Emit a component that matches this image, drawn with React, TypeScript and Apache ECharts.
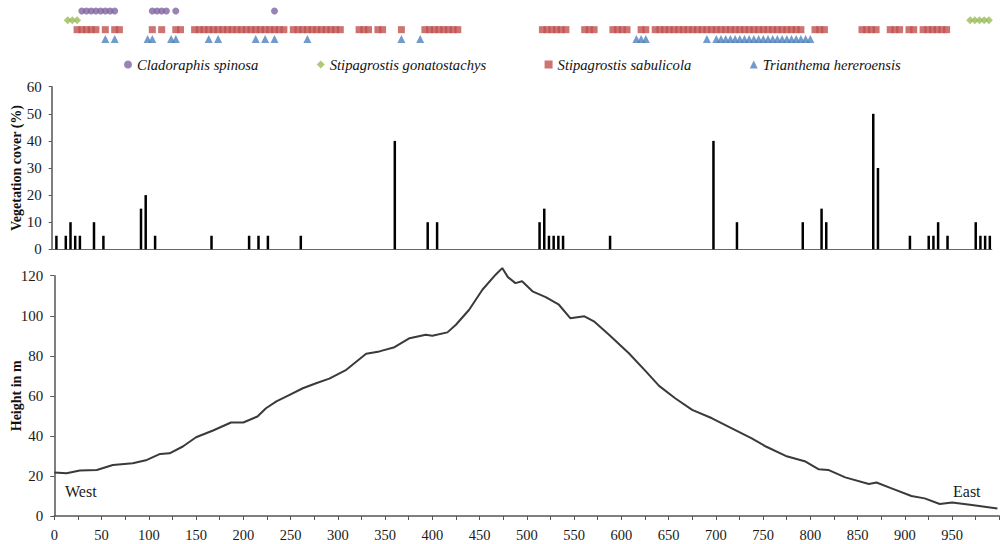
import { useEffect, useRef } from "react";
import * as echarts from "echarts";

// Species presence along the transect (distance in m)
const cladoraphisSpinosa = [30, 35, 40, 45, 50, 55, 60, 65, 105, 110, 115, 120, 130, 235];
const stipagrostisGonatostachys = [15, 20, 25, 975, 980, 985, 990, 995];
const stipagrostisSabulicola = [
  25, 30, 35, 40, 45, 55, 65, 70, 105, 115, 130, 135, 150,
  155, 160, 165, 170, 175, 180, 185, 190, 195, 200, 205, 210, 215, 220, 225, 230, 235, 240, 245,
  255, 260, 265, 270, 275, 280, 285, 290, 295, 300, 305,
  325, 330, 335, 345, 350, 370,
  395, 400, 405, 410, 415, 420, 425, 430,
  520, 525, 530, 535, 540, 545, 565, 570, 575, 595, 600, 605, 610, 625, 630,
  640, 645, 650, 655, 660, 665, 670, 675, 680, 685, 690, 695, 700, 705, 710, 715,
  720, 725, 730, 735, 740, 745, 750, 755, 760, 765, 770, 775, 780, 785, 790, 795,
  810, 815, 820, 860, 865, 870, 875, 890, 895, 900, 910, 915,
  925, 930, 935, 940, 945, 950,
];
const trianthemaHereroensis = [
  55, 65, 100, 105, 125, 130, 165, 175, 215, 225, 235, 270, 370, 390, 620, 625, 630, 695,
  705, 710, 715, 720, 725, 730, 735, 740, 745, 750, 755, 760, 765, 770, 775, 780, 785, 790, 795, 800, 805,
];

// Vegetation cover (%) at distance (m)
const vegCover: [number, number][] = [
  [5, 5], [15, 5], [20, 10], [25, 5], [30, 5], [45, 10], [55, 5], [95, 15], [100, 20], [110, 5],
  [170, 5], [210, 5], [220, 5], [230, 5], [265, 5], [365, 40], [400, 10], [410, 10],
  [519, 10], [524, 15], [529, 5], [534, 5], [539, 5], [544, 5], [594, 5],
  [704, 40], [729, 10], [799, 10], [819, 15], [824, 10], [874, 50], [879, 30],
  [913, 5], [933, 5], [938, 5], [943, 10], [953, 5], [983, 10], [988, 5], [993, 5], [998, 5],
];

// Height profile (distance m, height m)
const heightProfile: [number, number][] = [
  [0, 21.7], [13, 21.3], [27, 22.7], [45, 23], [62, 25.5], [83, 26.3], [98, 28], [112, 31],
  [122, 31.3], [136, 34.7], [150, 39.3], [168, 42.7], [187, 46.7], [200, 46.7], [215, 49.7],
  [224, 53.8], [235, 57.2], [249, 60.5], [263, 63.8], [277, 66.3], [291, 68.6], [309, 73],
  [330, 81], [344, 82.2], [360, 84.3], [376, 88.8], [393, 90.5], [400, 90], [416, 91.7],
  [425, 95.5], [439, 103], [453, 113], [467, 120.5], [474, 123.8], [480, 119.3], [488, 116.3],
  [495, 117.2], [506, 112.2], [520, 109.3], [534, 105.5], [546, 98.8], [561, 99.7], [571, 97.2],
  [587, 90.5], [608, 81.3], [626, 72.2], [640, 65], [657, 58.8], [675, 53], [696, 48.8],
  [717, 43.8], [738, 38.8], [753, 34.7], [774, 30], [795, 27.2], [809, 23.3], [819, 23],
  [837, 19.3], [862, 16], [870, 16.7], [886, 13.8], [907, 10], [921, 8.8], [937, 6],
  [950, 6.7], [971, 5.5], [998, 3.8],
];

const speciesNames = [
  "Cladoraphis spinosa",
  "Stipagrostis gonatostachys",
  "Stipagrostis sabulicola",
  "Trianthema hereroensis",
];

export default function App() {
  const ref = useRef<HTMLDivElement>(null);
  useEffect(() => {
    const chart = echarts.init(ref.current!, null, { renderer: "svg" });
    const serif = "Liberation Serif";
    const axisColor = "#555";
    const labelColor = "#1a1a1a";
    chart.setOption({
      animation: false,
      backgroundColor: "#fff",
      textStyle: { fontFamily: serif },
      legend: {
        data: speciesNames,
        left: 124,
        top: 57,
        padding: 0,
        itemWidth: 8,
        itemHeight: 8,
        itemGap: 58.5,
        textStyle: { fontFamily: serif, fontStyle: "italic", fontSize: 14.6, color: "#111" },
      },
      grid: [
        { left: 53.6, right: 7.4, top: 11, height: 28, containLabel: false, outerBoundsMode: "none" },
        { left: 51.7, right: 9.3, top: 86.7, height: 162.6, containLabel: false, outerBoundsMode: "none" },
        { left: 54.3, right: 1.7, top: 275.7, height: 240.3, containLabel: false, outerBoundsMode: "none" },
      ],
      xAxis: [
        { gridIndex: 0, type: "value", min: 0, max: 1000, show: false },
        {
          gridIndex: 1, type: "value", min: 0, max: 1000,
          axisLine: { show: true, lineStyle: { color: "#666", width: 1.2 } },
          axisTick: { show: false }, axisLabel: { show: false }, splitLine: { show: false },
        },
        {
          gridIndex: 2, type: "value", min: 0, max: 1000, interval: 25,
          axisLine: { show: true, lineStyle: { color: axisColor, width: 1.5 } },
          axisTick: { show: true, length: 4, lineStyle: { color: axisColor } },
          axisLabel: {
            margin: 11, fontFamily: serif, fontSize: 14.5, color: labelColor,
            formatter: (v: number) => (v % 50 === 0 && v < 1000 ? String(v) : ""),
          },
          splitLine: { show: false },
        },
      ],
      yAxis: [
        { gridIndex: 0, type: "value", min: 1, max: 4, show: false },
        {
          gridIndex: 1, type: "value", min: 0, max: 60, interval: 10,
          name: "Vegetation cover (%)", nameLocation: "middle", nameGap: 28.5,
          nameMoveOverlap: false,
          nameTextStyle: { fontFamily: serif, fontWeight: "bold", fontSize: 14, color: "#111" },
          axisLine: { show: true, lineStyle: { color: axisColor, width: 1.5 } },
          axisTick: { show: true, length: 3, lineStyle: { color: axisColor } },
          axisLabel: { margin: 10, fontFamily: serif, fontSize: 15, color: labelColor },
          splitLine: { show: false },
        },
        {
          gridIndex: 2, type: "value", min: 0, max: 120, interval: 20,
          name: "Height in m", nameLocation: "middle", nameGap: 31,
          nameMoveOverlap: false,
          nameTextStyle: { fontFamily: serif, fontWeight: "bold", fontSize: 14, color: "#111" },
          axisLine: { show: true, lineStyle: { color: axisColor, width: 1.5 } },
          axisTick: { show: true, length: 4, lineStyle: { color: axisColor } },
          axisLabel: { margin: 11, fontFamily: serif, fontSize: 15, color: labelColor },
          splitLine: { show: false },
        },
      ],
      graphic: [
        { type: "text", left: 65, top: 483, style: { text: "West", font: `16px "${serif}"`, fill: "#1a1a1a" } },
        { type: "text", left: 953, top: 483, style: { text: "East", font: `16px "${serif}"`, fill: "#1a1a1a" } },
      ],
      series: [
        {
          name: speciesNames[0], type: "scatter", xAxisIndex: 0, yAxisIndex: 0,
          symbol: "circle", symbolSize: 7, itemStyle: { color: "#8064A2" },
          data: cladoraphisSpinosa.map((x) => [x, 4]),
        },
        {
          name: speciesNames[1], type: "scatter", xAxisIndex: 0, yAxisIndex: 0,
          symbol: "diamond", symbolSize: 8, itemStyle: { color: "#9BBB59" },
          data: stipagrostisGonatostachys.map((x) => [x, 3]),
        },
        {
          name: speciesNames[2], type: "scatter", xAxisIndex: 0, yAxisIndex: 0,
          symbol: "rect", symbolSize: 7, itemStyle: { color: "#C0504D" },
          data: stipagrostisSabulicola.map((x) => [x, 2]),
        },
        {
          name: speciesNames[3], type: "scatter", xAxisIndex: 0, yAxisIndex: 0,
          symbol: "triangle", symbolSize: 8, itemStyle: { color: "#4F81BD" },
          data: trianthemaHereroensis.map((x) => [x, 1]),
        },
        {
          type: "bar", xAxisIndex: 1, yAxisIndex: 1, barWidth: 2.5,
          itemStyle: { color: "#000" }, data: vegCover,
        },
        {
          type: "line", xAxisIndex: 2, yAxisIndex: 2, symbol: "none", showSymbol: false,
          clip: false,
          lineStyle: { color: "#3a3a3a", width: 2 }, data: heightProfile,
        },
      ],
    });
    return () => chart.dispose();
  }, []);
  return (
    <div
      ref={ref}
      style={{ position: "fixed", left: 0, top: 0, width: 1001, height: 544, background: "#fff" }}
    />
  );
}
